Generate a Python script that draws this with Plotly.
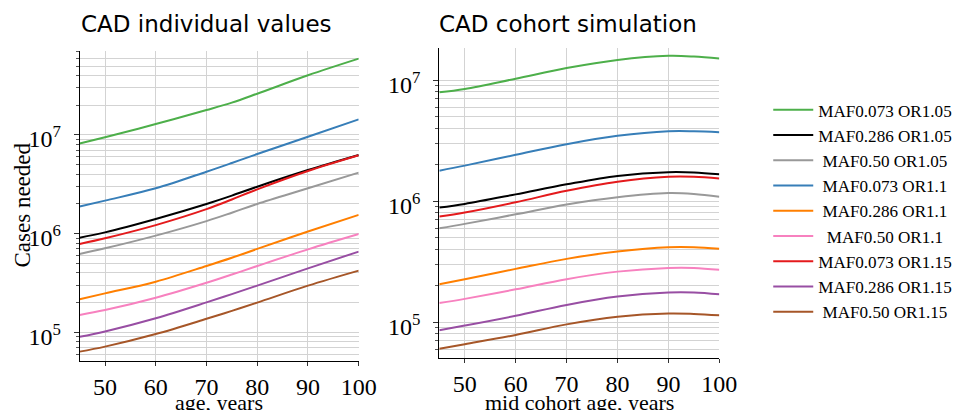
import plotly.graph_objects as go

# ---------------- data ----------------
ages_ind = [45, 50, 60, 70, 75, 80, 90, 100]
ages_coh = [45, 50, 60, 70, 80, 90, 95, 100]

labels = ["MAF0.073 OR1.05", "MAF0.286 OR1.05", "MAF0.50 OR1.05",
          "MAF0.073 OR1.1", "MAF0.286 OR1.1", "MAF0.50 OR1.1",
          "MAF0.073 OR1.15", "MAF0.286 OR1.15", "MAF0.50 OR1.15"]
colors = ["#4daf4a", "#000000", "#999999",
          "#377eb8", "#ff7f00", "#f781bf",
          "#e41a1c", "#984ea3", "#a65628"]

# individual values (ages_ind)
ind_maf073_or105 = [8.2e6, 9.5e6, 1.29e7, 1.79e7, 2.13e7, 2.62e7, 4.03e7, 5.94e7]
ind_maf286_or105 = [9.1e5, 1.03e6, 1.41e6, 2.0e6, 2.43e6, 2.99e6, 4.41e6, 6.27e6]
ind_maf50_or105 = [6.22e5, 7.1e5, 9.55e5, 1.34e6, 1.63e6, 2.0e6, 2.88e6, 4.15e6]
ind_maf073_or11 = [1.88e6, 2.16e6, 2.88e6, 4.24e6, 5.2e6, 6.41e6, 9.6e6, 1.44e7]
ind_maf286_or11 = [2.16e5, 2.48e5, 3.26e5, 4.7e5, 5.7e5, 7.0e5, 1.05e6, 1.55e6]
ind_maf50_or11 = [1.5e5, 1.68e5, 2.24e5, 3.18e5, 3.85e5, 4.7e5, 6.93e5, 9.9e5]
ind_maf073_or115 = [7.85e5, 8.97e5, 1.22e6, 1.77e6, 2.22e6, 2.81e6, 4.31e6, 6.22e6]
ind_maf286_or115 = [9.0e4, 1.02e5, 1.39e5, 2.01e5, 2.44e5, 2.97e5, 4.45e5, 6.58e5]
ind_maf50_or115 = [6.37e4, 7.16e4, 9.6e4, 1.37e5, 1.65e5, 2.0e5, 2.97e5, 4.22e5]

# cohort simulation (ages_coh)
coh_maf073_or105 = [7.96e6, 8.47e6, 1.03e7, 1.26e7, 1.47e7, 1.59e7, 1.57e7, 1.51e7]
coh_maf286_or105 = [8.87e5, 9.5e5, 1.14e6, 1.38e6, 1.62e6, 1.74e6, 1.73e6, 1.67e6]
coh_maf50_or105 = [5.98e5, 6.5e5, 7.8e5, 9.4e5, 1.08e6, 1.17e6, 1.15e6, 1.09e6]
coh_maf073_or11 = [1.79e6, 1.97e6, 2.42e6, 2.96e6, 3.47e6, 3.79e6, 3.79e6, 3.72e6]
coh_maf286_or11 = [2.06e5, 2.27e5, 2.76e5, 3.34e5, 3.84e5, 4.17e5, 4.17e5, 4.04e5]
coh_maf50_or11 = [1.44e5, 1.56e5, 1.87e5, 2.27e5, 2.62e5, 2.81e5, 2.81e5, 2.71e5]
coh_maf073_or115 = [7.47e5, 8.06e5, 9.8e5, 1.22e6, 1.45e6, 1.59e6, 1.59e6, 1.54e6]
coh_maf286_or115 = [8.59e4, 9.38e4, 1.13e5, 1.39e5, 1.63e5, 1.76e5, 1.76e5, 1.70e5]
coh_maf50_or115 = [6.03e4, 6.58e4, 7.85e4, 9.6e4, 1.11e5, 1.18e5, 1.17e5, 1.14e5]

ind_series = [ind_maf073_or105, ind_maf286_or105, ind_maf50_or105,
              ind_maf073_or11, ind_maf286_or11, ind_maf50_or11,
              ind_maf073_or115, ind_maf286_or115, ind_maf50_or115]
coh_series = [coh_maf073_or105, coh_maf286_or105, coh_maf50_or105,
              coh_maf073_or11, coh_maf286_or11, coh_maf50_or11,
              coh_maf073_or115, coh_maf286_or115, coh_maf50_or115]

x_ticks = [50, 60, 70, 80, 90, 100]
y_ticks = [1e5, 1e6, 1e7]
y_ticktext = ["10<sup>5</sup>", "10<sup>6</sup>", "10<sup>7</sup>"]
minor_vals = [m * 10 ** e for e in range(4, 8) for m in range(2, 10)]


def centered(label, width=15):
    # legend text in the reference is centred: pad shorter labels on the left
    return "\u00a0" * (width - len(label)) + label


# ---------------- figure ----------------
fig = go.Figure()
for lab, col, ys in zip(labels, colors, ind_series):
    fig.add_trace(go.Scatter(x=ages_ind, y=ys, mode="lines", name=centered(lab),
                             line=dict(color=col, width=2, shape="spline", smoothing=1.0),
                             xaxis="x", yaxis="y", showlegend=True))
for lab, col, ys in zip(labels, colors, coh_series):
    fig.add_trace(go.Scatter(x=ages_coh, y=ys, mode="lines", name=lab,
                             line=dict(color=col, width=2, shape="spline", smoothing=1.0),
                             xaxis="x2", yaxis="y2", showlegend=False))

serif = "Liberation Serif"
sans = "DejaVu Sans"
grid = "#d3d3d3"

xcommon = dict(range=[45, 100], tickvals=x_ticks, showgrid=True, gridcolor=grid, gridwidth=1,
               showline=True, linecolor="black", linewidth=1, ticks="outside", ticklen=4,
               tickcolor="#333", tickfont=dict(family=serif, size=24, color="black"),
               zeroline=False, mirror=False, automargin=False)
ycommon = dict(type="log", tickvals=y_ticks, ticktext=y_ticktext, showgrid=True, gridcolor=grid,
               gridwidth=1, showline=True, linecolor="black", linewidth=1, ticks="outside",
               ticklen=5, tickcolor="#333", ticklabelstandoff=8, ticklabelshift=4,
               automargin=False,
               tickfont=dict(family=serif, size=24, color="black"), zeroline=False,
               minor=dict(tickvals=minor_vals, showgrid=True, gridcolor=grid, gridwidth=1,
                          ticks="outside", ticklen=3, tickcolor="#555"))

title_font = dict(family=sans, size=23, color="black")
label_font = dict(family=serif, size=22, color="black")

fig.update_layout(
    width=970, height=410, margin=dict(l=0, r=0, t=0, b=0, autoexpand=False),
    paper_bgcolor="white", plot_bgcolor="white",
    xaxis=dict(domain=[0.0821, 0.3698], anchor="y", **xcommon),
    yaxis=dict(domain=[0.1202, 0.8763], anchor="x", range=[4.712, 7.854], **ycommon),
    xaxis2=dict(domain=[0.4529, 0.7416], anchor="y2", **xcommon),
    yaxis2=dict(domain=[0.1261, 0.8822], anchor="x2", range=[4.702, 7.264], **ycommon),
    legend=dict(x=0.792, y=0.775, xanchor="left", yanchor="top", itemwidth=40,
                font=dict(family=serif, size=17.1, color="black"),
                bgcolor="rgba(0,0,0,0)", tracegroupgap=0),
    annotations=[
        dict(text="CAD individual values", x=206 / 970, y=1 - 24 / 410, xref="paper", yref="paper",
             xanchor="center", yanchor="middle", showarrow=False, font=title_font),
        dict(text="CAD cohort simulation", x=568 / 970, y=1 - 24 / 410, xref="paper", yref="paper",
             xanchor="center", yanchor="middle", showarrow=False, font=title_font),
        dict(text="Cases needed", x=22 / 970, y=1 - 205.5 / 410, xref="paper", yref="paper",
             xanchor="center", yanchor="middle", textangle=-90, showarrow=False,
             font=dict(family=serif, size=23, color="black")),
        dict(text="age, years", x=219 / 970, y=1 - 388 / 410, xref="paper", yref="paper",
             xanchor="center", yanchor="top", showarrow=False, font=label_font),
        dict(text="mid cohort age, years", x=579 / 970, y=1 - 388 / 410, xref="paper", yref="paper",
             xanchor="center", yanchor="top", showarrow=False, font=label_font),
    ],
)

fig.write_html("out.html")
